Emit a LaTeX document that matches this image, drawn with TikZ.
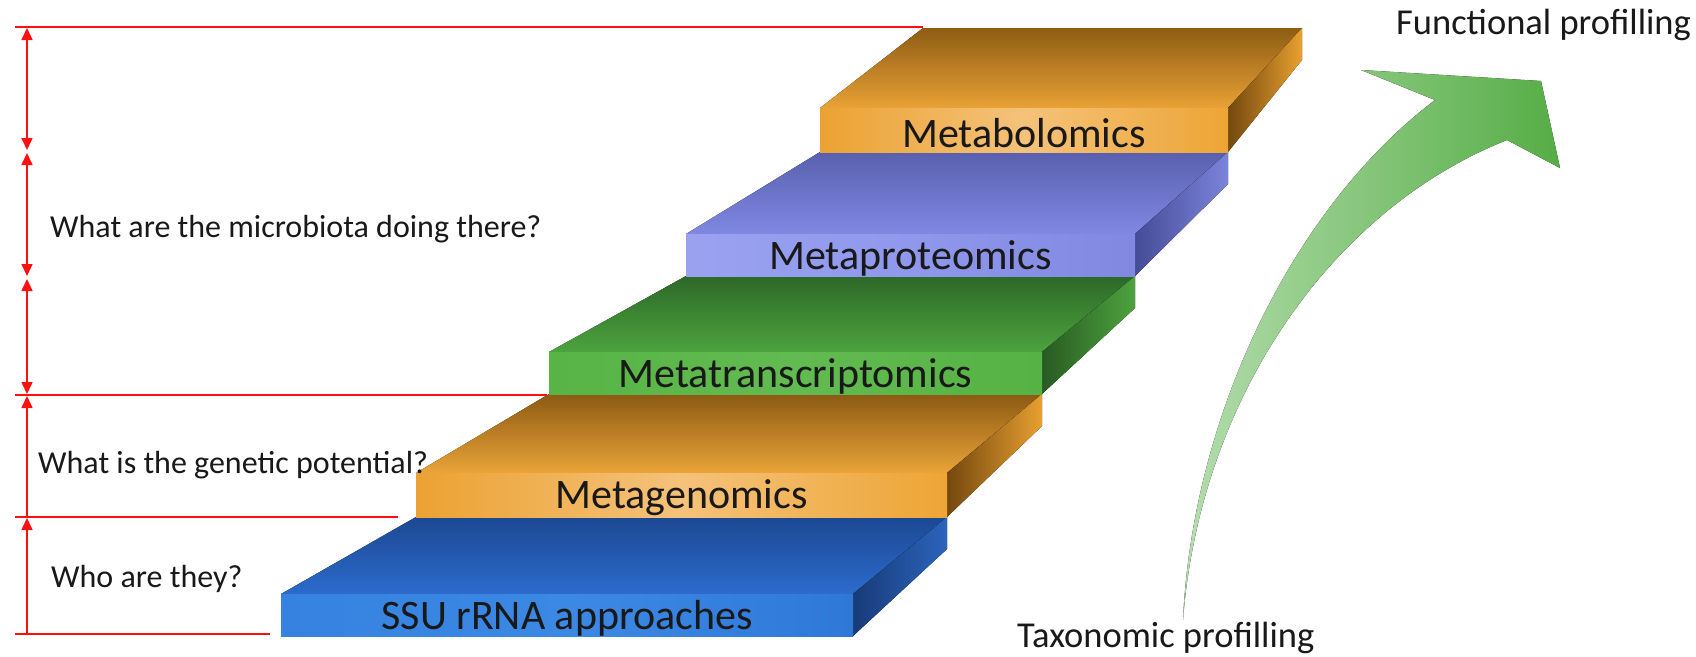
\documentclass[tikz,border=0pt]{standalone}
\usepackage{fontspec}
\setmainfont{Carlito}
\usetikzlibrary{arrows.meta}
% blue slab
\definecolor{sATb}{HTML}{1C4893}\definecolor{sATf}{HTML}{2C6BCC}
\definecolor{sASl}{HTML}{183B78}\definecolor{sASr}{HTML}{2B64BC}
\definecolor{sAFl}{HTML}{3582E0}\definecolor{sAFm}{HTML}{3C89E4}\definecolor{sAFr}{HTML}{2F78D8}
% orange slab (metagenomics)
\definecolor{sBTb}{HTML}{8C5A13}\definecolor{sBTf}{HTML}{EAA438}
\definecolor{sBSl}{HTML}{74480E}\definecolor{sBSr}{HTML}{E8A030}
\definecolor{sBFl}{HTML}{EBA232}\definecolor{sBFm}{HTML}{F5C27A}\definecolor{sBFr}{HTML}{EDA535}
% green slab
\definecolor{sCTb}{HTML}{2D6828}\definecolor{sCTf}{HTML}{4CA33E}
\definecolor{sCSl}{HTML}{285A23}\definecolor{sCSr}{HTML}{4DA33D}
\definecolor{sCFl}{HTML}{58B447}\definecolor{sCFm}{HTML}{62BB50}\definecolor{sCFr}{HTML}{56B245}
% purple slab
\definecolor{sDTb}{HTML}{5860AE}\definecolor{sDTf}{HTML}{7F89E2}
\definecolor{sDSl}{HTML}{454C98}\definecolor{sDSr}{HTML}{7A84DA}
\definecolor{sDFl}{HTML}{9AA2F0}\definecolor{sDFm}{HTML}{8F98EC}\definecolor{sDFr}{HTML}{8088E0}
% orange slab (metabolomics)
\definecolor{sETb}{HTML}{8E5C14}\definecolor{sETf}{HTML}{E9A236}
\definecolor{sESl}{HTML}{74480E}\definecolor{sESr}{HTML}{E8A030}
\definecolor{sEFl}{HTML}{EBA232}\definecolor{sEFm}{HTML}{F5C27A}\definecolor{sEFr}{HTML}{EDA535}
\definecolor{arrL}{HTML}{B4DDAE}\definecolor{arrD}{HTML}{55AD45}
\definecolor{qred}{HTML}{FF1010}
\newcommand{\mkslab}[9]{%
  \fill[top color=#8Tb, bottom color=#8Tf] (#1,#3) -- (#2,#3) -- (#6,#7) -- (#5,#7) -- cycle;
  \fill[left color=#8Sl, right color=#8Sr] (#2,#3) -- (#6,#7) -- (#6,#7+32) -- (#2,#4) -- cycle;
  \fill[left color=#8Fl, right color=#8Fr, middle color=#8Fm] (#1,#3) rectangle (#2,#4);
  \node[slablabel] (#8) at ({(#1+#2)/2},{(#3+#4)/2+3}) {#9};
}
\begin{document}
\begin{tikzpicture}[x=1pt,y=-1pt,
  slablabel/.style={inner sep=0pt, text=black!90, font=\fontsize{42}{42}\selectfont},
  qtext/.style={inner sep=0pt, anchor=west, text=black!90, font=\fontsize{32}{32}\selectfont},
  ptext/.style={inner sep=0pt, anchor=west, text=black!90, font=\fontsize{36.5}{36.5}\selectfont},
  redline/.style={draw=qred, line width=2.6pt},
  redarr/.style={draw=qred, line width=1.6pt},
  rtip/.tip={Triangle[width=11pt,length=12pt]}]
\useasboundingbox[fill=white] (0,0) rectangle (1696,656);

% slabs, bottom to top
\mkslab{281}{853}{594}{636}{416}{947}{517}{sA}{SSU rRNA approaches}
\mkslab{416}{947}{473}{517}{549}{1042}{394}{sB}{Metagenomics}
\mkslab{549}{1042}{352}{394}{686}{1135}{276}{sC}{Metatranscriptomics}
\mkslab{686}{1135}{234}{276}{820}{1228}{152}{sD}{Metaproteomics}
\mkslab{820}{1228}{108}{152}{923}{1302}{28}{sE}{Metabolomics}

% red guide lines
\coordinate (h0a) at (15,27);  \coordinate (h0b) at (923,27);
\coordinate (h1a) at (15,395); \coordinate (h1b) at (547,395);
\coordinate (h2a) at (15,517); \coordinate (h2b) at (398,517);
\coordinate (h3a) at (15,634); \coordinate (h3b) at (270,634);
\draw[redline] (h0a) -- (h0b);
\draw[redline] (h1a) -- (h1b);
\draw[redline] (h2a) -- (h2b);
\draw[redline] (h3a) -- (h3b);

\coordinate (v0) at (27,28);
\coordinate (v1a) at (27,150); \coordinate (v1b) at (27,153);
\coordinate (v2a) at (27,276); \coordinate (v2b) at (27,279);
\coordinate (v3) at (27,394); \coordinate (v3b) at (27,396);
\coordinate (v4) at (27,518);
\coordinate (v5) at (27,634);
\draw[redarr, rtip-rtip] (v0) -- (v1a);
\draw[redarr, rtip-rtip] (v1b) -- (v2a);
\draw[redarr, rtip-rtip] (v2b) -- (v3);
\draw[redarr, -rtip] (h2a -| v0) -- (v3b);
\draw[redarr, -rtip] (v5) -- (v4);

% questions
\node[qtext] (q1) at (50,229) {What are the microbiota doing there?};
\node[qtext] (q2) at (38,465) {What is the genetic potential?};
\node[qtext] (q3) at (51,579) {Who are they?};

% big curved arrow
\fill[left color=arrL, right color=arrD]
  (1183,620) .. controls (1192,420) and (1290,210) .. (1435,100)
  -- (1361,70) -- (1541,81) -- (1560,168) -- (1507,140)
  .. controls (1330,210) and (1200,400) .. (1183,620) -- cycle;

\node[ptext] (func) at (1396,25) {Functional profilling};
\node[ptext] (taxo) at (1017,638) {Taxonomic profilling};
\end{tikzpicture}
\end{document}
